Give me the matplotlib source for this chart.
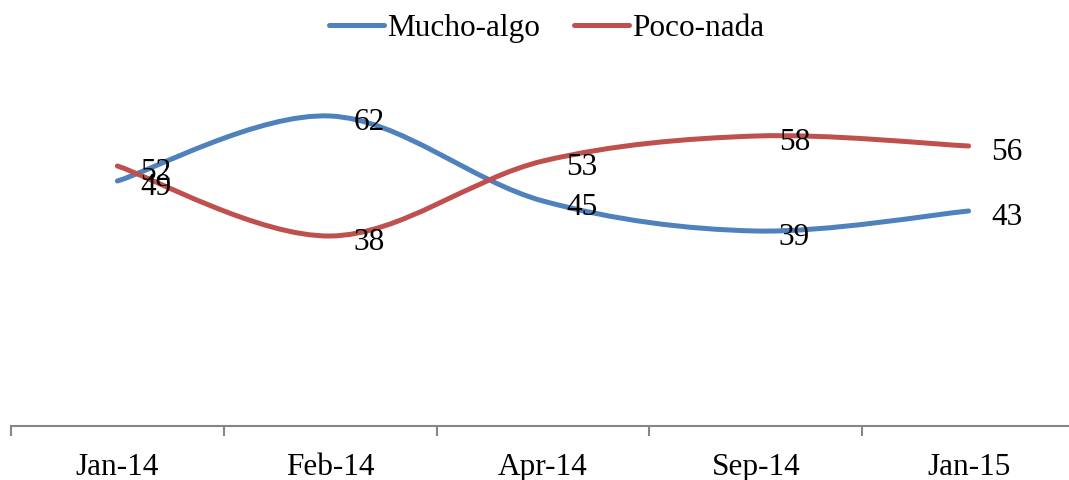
import matplotlib
matplotlib.use("Agg")
import matplotlib.pyplot as plt
from matplotlib.path import Path
from matplotlib.patches import PathPatch
from matplotlib.lines import Line2D
import numpy as np

categories = ["Jan-14", "Feb-14", "Apr-14", "Sep-14", "Jan-15"]
mucho_algo = [49, 62, 45, 39, 43]
poco_nada = [52, 38, 53, 58, 56]
series_names = ["Mucho-algo", "Poco-nada"]
colors = ["#4F81BD", "#C0504D"]

plt.rcParams["font.family"] = ["Liberation Serif", "DejaVu Serif"]
FS = 22.5

W, H = 1069, 481
fig = plt.figure(figsize=(W / 100, H / 100), dpi=100)
left_px, right_px, bottom_px, top_px = 11, 1075, 427, 77
ax = fig.add_axes([left_px / W, (H - bottom_px) / H,
                   (right_px - left_px) / W, (bottom_px - top_px) / H])
ax.set_xlim(-0.5, len(categories) - 0.5)
ax.set_ylim(0, 70)


def smooth_path(xs, ys):
    pts = np.column_stack([xs, ys]).astype(float)
    n = len(pts)
    verts = [pts[0]]
    codes = [Path.MOVETO]
    for i in range(n - 1):
        p0 = pts[i - 1] if i > 0 else pts[i]
        p1 = pts[i]
        p2 = pts[i + 1]
        p3 = pts[i + 2] if i + 2 < n else pts[i + 1]
        c1 = p1 + (p2 - p0) / 6.0
        c2 = p2 - (p3 - p1) / 6.0
        verts += [c1, c2, p2]
        codes += [Path.CURVE4] * 3
    return Path(verts, codes)


x = np.arange(len(categories))
for vals, c in zip([mucho_algo, poco_nada], colors):
    patch = PathPatch(smooth_path(x, vals), facecolor="none", edgecolor=c,
                      lw=3.6, capstyle="round", joinstyle="round", zorder=3)
    ax.add_patch(patch)
    for xi, v in zip(x, vals):
        ax.annotate(str(v), (xi, v), xytext=(23, -6), textcoords="offset pixels",
                    ha="left", va="center", fontsize=FS, color="black", zorder=4)

for s in ["top", "left", "right"]:
    ax.spines[s].set_visible(False)
ax.spines["bottom"].set_color("#868686")
ax.spines["bottom"].set_linewidth(1.5)
ax.set_yticks([])
ax.set_xticks(x)
ax.set_xticklabels(categories, fontsize=FS)
ax.tick_params(axis="x", which="major", length=0, pad=19)
ax.set_xticks(np.arange(-0.5, len(categories), 1.0), minor=True)
ax.tick_params(axis="x", which="minor", length=7, width=1.5, color="#868686", direction="out")

handles = [Line2D([0], [0], color=c, lw=3.6, solid_capstyle="round") for c in colors]
fig.legend(handles, series_names, loc="center", bbox_to_anchor=(546.5 / W, 1 - 29 / H),
           ncol=2, frameon=False, fontsize=FS, handlelength=1.75, handletextpad=0.1,
           columnspacing=1.1, borderpad=0, borderaxespad=0)

fig.savefig("out.png", dpi=100)
